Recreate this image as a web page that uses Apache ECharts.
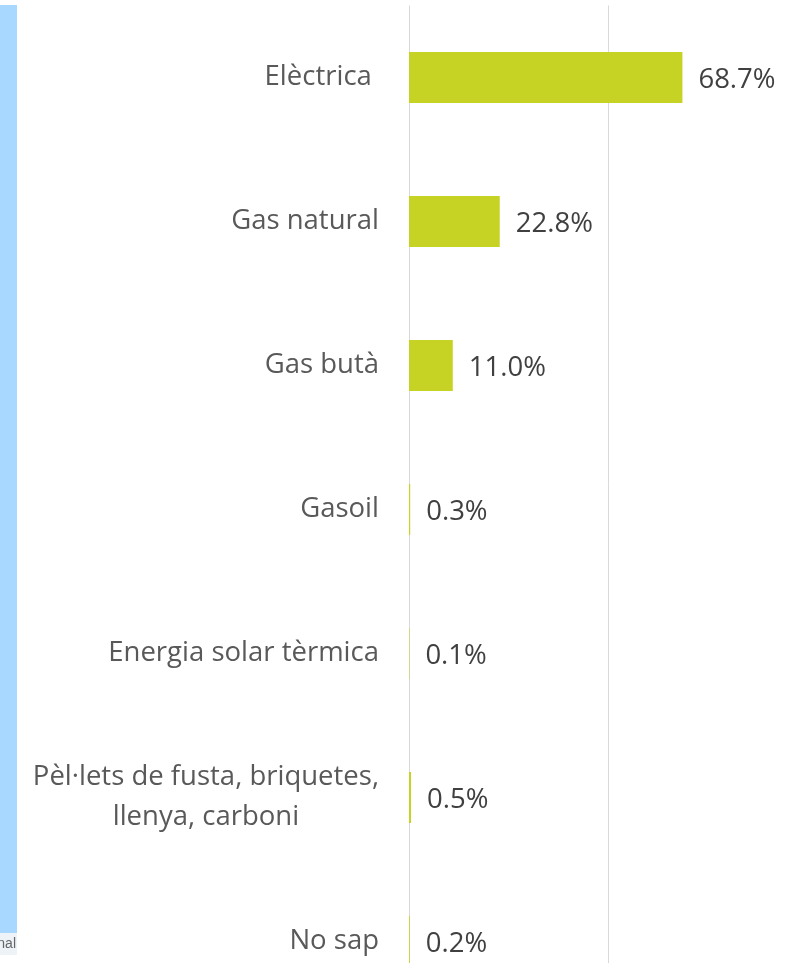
<!DOCTYPE html>
<html>
<head>
<meta charset="utf-8">
<script src="https://cdn.jsdelivr.net/npm/echarts@6/dist/echarts.min.js"></script>
<style>
  html, body { margin: 0; padding: 0; background: #fff; }
  #chart { width: 807px; height: 963px; }
</style>
</head>
<body>
<div id="chart"></div>
<script>
var categories = ['Elèctrica ', 'Gas natural', 'Gas butà', 'Gasoil', 'Energia solar tèrmica',
	'Pèl·lets de fusta, briquetes,\nllenya, carboni', 'No sap'];
var values = [68.7, 22.8, 11.0, 0.3, 0.1, 0.5, 0.2];
var xTicks = [0, 50, 100];

var myChart = echarts.init(document.getElementById('chart'));
var font = '"Open Sans", "Noto Sans", sans-serif';

var option = {
	animation: false,
	grid: {
		left: 409,
		top: 5.5,
		width: 398,
		height: 1008,
		outerBoundsMode: 'none'
	},
	xAxis: {
		type: 'value',
		min: xTicks[0],
		max: xTicks[xTicks.length - 1],
		interval: xTicks[1] - xTicks[0],
		axisLabel: { show: false },
		axisLine: { show: false },
		axisTick: { show: false },
		splitLine: {
			show: true,
			lineStyle: { color: '#d9d9d9', width: 1 }
		}
	},
	yAxis: {
		type: 'category',
		inverse: true,
		data: categories,
		axisLine: { show: false },
		axisTick: { show: false },
		axisLabel: {
			margin: 30,
			formatter: function(v) {
				// every line centred inside the label block
				return v.split('\n').map(function(s) { return '{a|' + s + '}'; }).join('\n');
			},
			rich: {
				a: {
					align: 'center',
					fontFamily: font,
					fontSize: 27.5,
					lineHeight: 40,
					color: '#595959'
				}
			}
		}
	},
	series: [{
		type: 'bar',
		data: values,
		barWidth: 51,
		itemStyle: { color: '#c6d324' },
		label: {
			show: true,
			position: 'right',
			distance: 16,
			offset: [0, 3],
			fontFamily: font,
			fontSize: 27.5,
			color: '#404040',
			formatter: function(p) { return p.value.toFixed(1) + '%'; }
		}
	}],
	graphic: [
		{ type: 'rect', shape: { x: 0, y: 5, width: 17, height: 928 }, style: { fill: '#a8d8ff' } },
		{ type: 'rect', shape: { x: 0, y: 933, width: 17, height: 22 }, style: { fill: '#eef3f8' } },
		{ type: 'text', x: 16, y: 944, style: { text: 'nal', align: 'right', verticalAlign: 'middle', font: '14px "Liberation Sans", sans-serif', fill: '#666' } }
	]
};
myChart.setOption(option);
</script>
</body>
</html>
